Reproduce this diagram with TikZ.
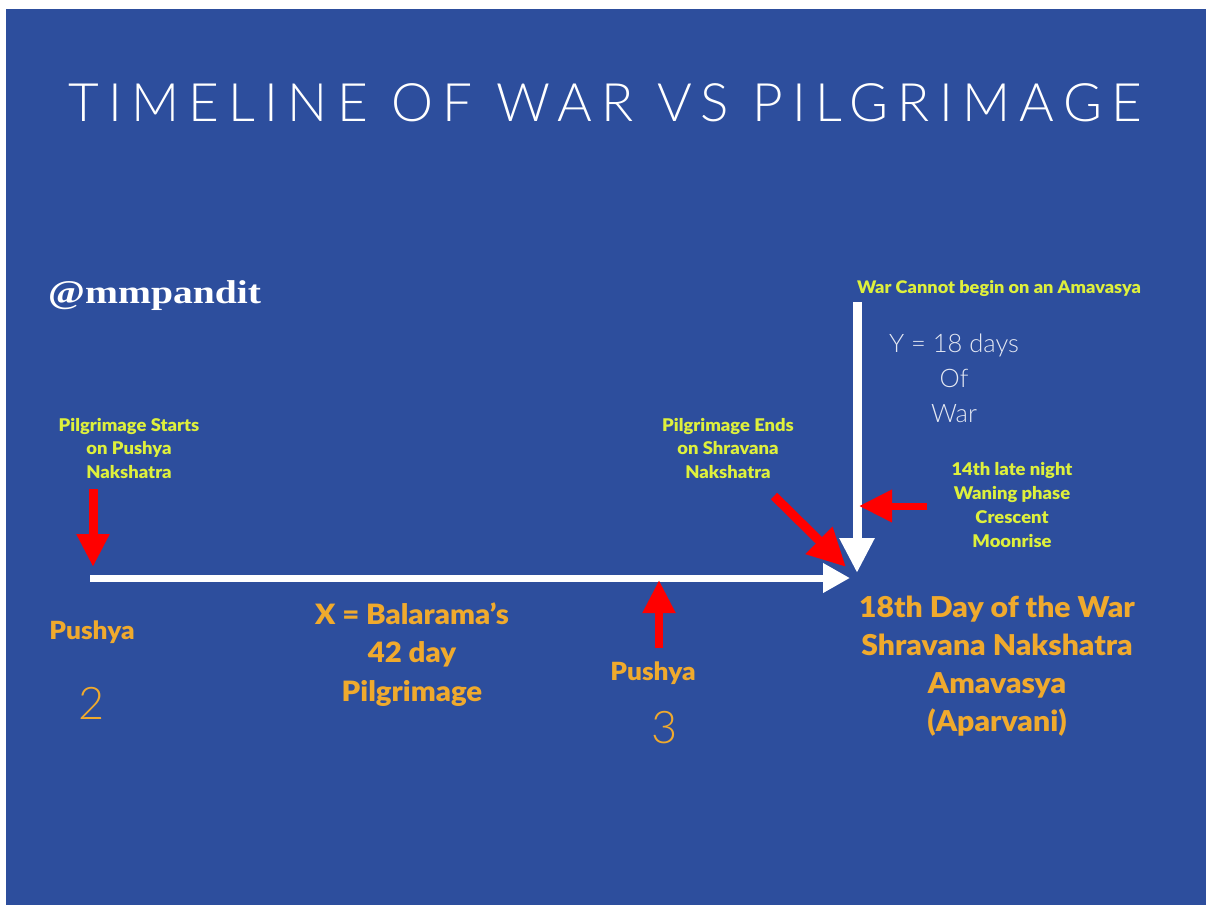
\documentclass[tikz,border=0pt]{standalone}
\usepackage{fontspec}
\setmainfont{Lato}
\newfontfamily\lightfont{Lato Light}
\newfontfamily\heavyfont{Lato Black}[FakeStretch=1.05]
\newfontfamily\handlefont{Liberation Serif}[FakeStretch=1.2]
\usetikzlibrary{arrows.meta}
\definecolor{bgblue}{RGB}{45,78,157}
\definecolor{labelyellow}{RGB}{222,240,60}
\definecolor{labelorange}{RGB}{240,170,45}
\definecolor{arrowred}{RGB}{255,0,0}
\definecolor{softwhite}{RGB}{228,232,242}
\begin{document}
\begin{tikzpicture}[x=1pt,y=-1pt,
  timeline/.style={white, line width=7pt, -{Triangle[length=27pt,width=28pt]}},
  warline/.style={white, line width=9pt, -{Triangle[length=35pt,width=33pt]}},
  redarrow/.style={arrowred, line width=8pt, -{Triangle[length=33pt,width=31pt]}},
  ylab/.style={text=labelyellow, font=\heavyfont\fontsize{17.5}{23.2}\selectfont, align=center, inner sep=0pt},
  olab/.style={text=labelorange, font=\heavyfont\fontsize{28.7}{38}\selectfont, align=center, inner sep=0pt},
  numlab/.style={text=labelorange, font=\lightfont\fontsize{45}{50}\selectfont, inner sep=0pt},
  lightlab/.style={text=softwhite, font=\lightfont\fontsize{25.5}{35}\selectfont, align=center, inner sep=0pt}
]
\useasboundingbox (0,0) rectangle (1206,905);
\fill[white] (0,0) rectangle (1206,905);
\fill[bgblue] (6,9) rectangle (1206,905);

% title and handle
\node[anchor=base, text=white, inner sep=0pt,
  font=\lightfont\fontsize{53}{60}\selectfont\addfontfeatures{LetterSpace=17.5}] (title) at (605,121) {TIMELINE OF WAR VS PILGRIMAGE};
\node[anchor=base west, text=white, inner sep=0pt, font=\handlefont\bfseries\fontsize{33}{40}\selectfont] (handle) at (48,303) {@mmpandit};

% coordinates
\coordinate (tl0) at (90,578);
\coordinate (tl1) at (850,578);
\coordinate (war0) at (857,302);
\coordinate (war1) at (857,573);
\coordinate (ra0) at (93,489);
\coordinate (ra1) at (93,567);
\coordinate (rb0) at (659,648);
\coordinate (rb1) at (659,580);
\coordinate (rc0) at (774,496);
\coordinate (rc1) at (846,567);
\coordinate (rd0) at (927,506);
\coordinate (rd1) at (859,506);

% white arrows
\draw[timeline] (tl0) -- (tl1);
\draw[warline] (war0) -- (war1);

% red arrows
\draw[redarrow, line width=9pt] (ra0) -- (ra1);
\draw[redarrow] (rb0) -- (rb1);
\draw[redarrow, line width=9pt, -{Triangle[length=38pt,width=36pt]}] (rc0) -- (rc1);
\draw[redarrow, line width=7pt] (rd0) -- (rd1);

% yellow labels (anchor = baseline of last line)
\node[ylab, anchor=base] (startlab) at (129,478) {Pilgrimage Starts\\on Pushya\\Nakshatra};
\node[ylab, anchor=base] (endlab) at (728,478) {Pilgrimage Ends\\on Shravana\\Nakshatra};
\node[ylab, anchor=base, font=\heavyfont\fontsize{17.3}{20}\selectfont] (nobegin) at (999,293) {War Cannot begin on an Amavasya};
\node[ylab, anchor=base, font=\heavyfont\fontsize{17.5}{24}\selectfont] (moon) at (1012,547) {14th late night\\Waning phase\\Crescent\\Moonrise};

% light labels
\node[lightlab, anchor=base] (ydays) at (954,422) {Y = 18 days\\Of\\War};

% orange labels
\node[olab, anchor=base, font=\heavyfont\fontsize{25}{30}\selectfont] (push2) at (92,639) {Pushya};
\node[numlab, anchor=base] (num2) at (92,719) {2};
\node[olab, anchor=base, font=\heavyfont\fontsize{28}{38.3}\selectfont] (xlab) at (412,701) {X = Balarama’s\\42 day\\Pilgrimage};
\node[olab, anchor=base, font=\heavyfont\fontsize{25}{30}\selectfont] (push3) at (653,680) {Pushya};
\node[numlab, anchor=base] (num3) at (665,743) {3};
\node[olab, anchor=base] (day18) at (997,731) {18th Day of the War\\Shravana Nakshatra\\Amavasya\\(Aparvani)};
\end{tikzpicture}
\end{document}
